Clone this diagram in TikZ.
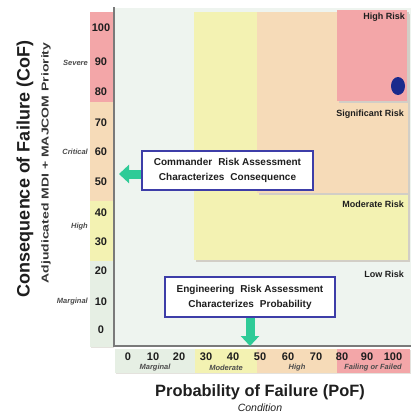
\documentclass[tikz,border=0pt]{standalone}
\usepackage{fontspec}
\setmainfont{Liberation Sans}
\usetikzlibrary{arrows.meta,shapes.geometric}
\definecolor{bgpale}{HTML}{EEF4EF}
\definecolor{colpale}{HTML}{E6EFE4}
\definecolor{yelc}{HTML}{F3F2B2}
\definecolor{orac}{HTML}{F6DBB8}
\definecolor{redc}{HTML}{F3A6A8}
\definecolor{shadowc}{HTML}{D2CEC6}
\definecolor{dotc}{HTML}{1A2A8C}
\definecolor{boxc}{HTML}{3D3DA8}
\definecolor{arrowc}{HTML}{2FCB97}
\definecolor{axisc}{HTML}{7A7A7A}
\definecolor{txtc}{HTML}{1E1E1E}
\begin{document}
\begin{tikzpicture}[x=1pt,y=-1pt,
  num/.style={font=\fontsize{11}{13}\selectfont\bfseries, text=txtc, inner sep=0pt},
  cat/.style={font=\fontsize{7.5}{9}\selectfont\bfseries\itshape, text=black!70, inner sep=0pt},
  risk/.style={font=\fontsize{9}{11}\selectfont\bfseries, text=txtc, inner sep=0pt, anchor=east},
  callout/.style={draw=boxc, line width=1.4pt, fill=white, align=center,
     font=\fontsize{10}{15}\selectfont\bfseries, text=txtc, inner sep=0pt},
  garrow/.style={line width=9pt, draw=arrowc, -{Triangle[length=10pt,width=18pt]}},
  dot/.style={ellipse, fill=dotc, minimum width=14pt, minimum height=18pt, inner sep=0pt}
]
\useasboundingbox (0,0) rectangle (420,415);
% main area
\fill[bgpale] (114,8) rectangle (411,346);
\fill[shadowc] (195.5,13.5) rectangle (409.5,261.5);
\fill[yelc] (194,12) rectangle (408,260);
\fill[shadowc] (258.5,13.5) rectangle (409.5,194.5);
\fill[orac] (257,12) rectangle (408,193);
\fill[shadowc] (338.5,11.5) rectangle (408.5,102.5);
\fill[redc] (337,10) rectangle (407,101);
% risk labels
\node[risk] (hr) at (405,17) {High Risk};
\node[risk] (sr) at (404,114) {Significant Risk};
\node[risk] (mr) at (404,204) {Moderate Risk};
\node[risk] (lr) at (404,274) {Low Risk};
\node[dot] (d1) at (398,86) {};
% left scale column
\fill[shadowc!60] (91,13) rectangle (114,348);
\fill[redc] (90,12) rectangle (113,102);
\fill[orac] (90,102) rectangle (113,201);
\fill[yelc] (90,201) rectangle (113,261);
\fill[colpale] (90,261) rectangle (113,347);
\foreach \v/\yy in {100/28,90/62,80/92,70/123,60/152,50/182,40/213,30/242,20/271,10/302,0/330}
  \node[num] (l\v) at (101,\yy) {\v};
\node[cat, anchor=east] (csev) at (88,63) {Severe};
\node[cat, anchor=east] (ccri) at (88,152) {Critical};
\node[cat, anchor=east] (chig) at (88,227) {High};
\node[cat, anchor=east] (cmar) at (88,302) {Marginal};
% axes
\draw[axisc, line width=1.2pt] (114,7) -- (114,346) -- (411,346);
% bottom scale band
\fill[shadowc!60] (116,350) rectangle (411,374);
\fill[colpale] (115,349) rectangle (195,373);
\fill[yelc] (195,349) rectangle (257,373);
\fill[orac] (257,349) rectangle (337,373);
\fill[redc] (337,349) rectangle (410,373);
\foreach \v/\xx in {0/128,10/153,20/179,30/206,40/233,50/260,60/288,70/316,80/342,90/367,100/393}
  \node[num] (b\v) at (\xx,357) {\v};
\node[cat] (bmar) at (155,368) {Marginal};
\node[cat] (bmod) at (226,368) {Moderate};
\node[cat] (bhig) at (297,368) {High};
\node[cat] (bfai) at (373,368) {Failing or Failed};
% titles
\node[rotate=90, font=\fontsize{18}{20}\selectfont\bfseries, text=txtc, inner sep=0pt] (coft) at (25,169) {Consequence of Failure (CoF)};
\node[rotate=90, font=\fontsize{10}{12}\selectfont\bfseries, text=txtc!90, inner sep=0pt] (adj) at (46,163) {\scalebox{1.4}[1]{Adjudicated MDI + MAJCOM Priority}};
\node[font=\fontsize{16.4}{18}\selectfont\bfseries, text=txtc, inner sep=0pt] (poft) at (260,392) {Probability of Failure (PoF)};
\node[font=\fontsize{10.5}{12}\selectfont\itshape, text=txtc, inner sep=0pt] (cond) at (260,408) {Condition};
% callouts
\node[callout, minimum width=171pt, minimum height=39pt] (c1) at (227.5,170.5)
  {Commander\hspace{0.6em}Risk Assessment\\Characterizes\hspace{0.6em}Consequence};
\node[callout, minimum width=170pt, minimum height=40pt] (c2) at (250,297)
  {Engineering\hspace{0.6em}Risk Assessment\\Characterizes\hspace{0.6em}Probability};
\coordinate (tip1) at (119,174);
\coordinate (tip2) at (250,346);
\draw[garrow] (c1.west |- tip1) -- (tip1);
\draw[garrow] (c2.south) -- (tip2);
\end{tikzpicture}
\end{document}
